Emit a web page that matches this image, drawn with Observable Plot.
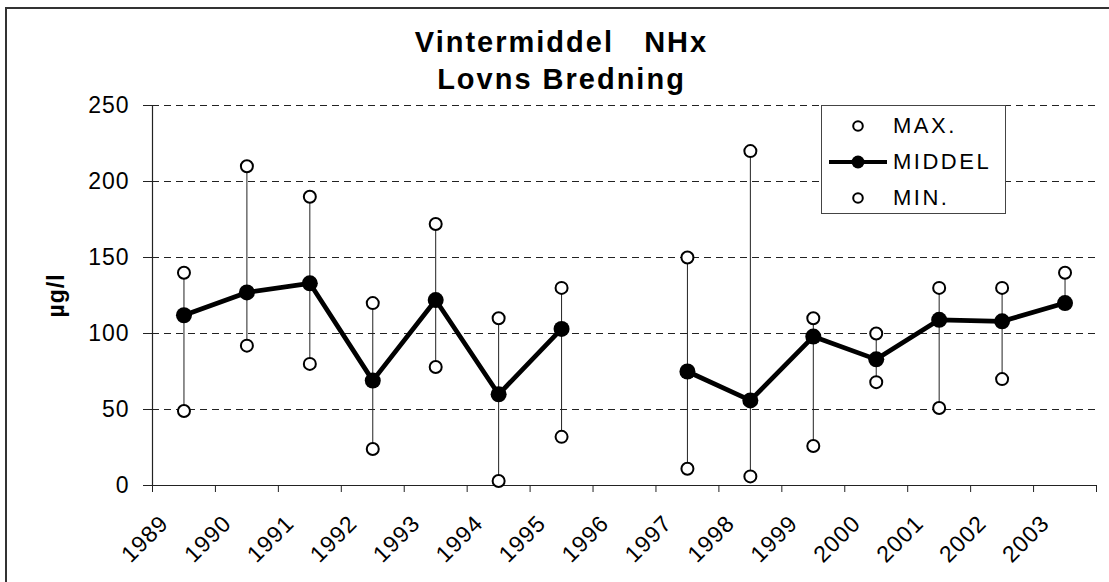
<!DOCTYPE html>
<html>
<head>
<meta charset="utf-8">
<script src="https://cdn.jsdelivr.net/npm/d3@7"></script>
<script src="https://cdn.jsdelivr.net/npm/@observablehq/plot@0.6"></script>
<style>
  html, body { margin: 0; padding: 0; background: #fff; }
  #wrap { position: relative; width: 1109px; height: 582px; overflow: hidden; background: #fff;
          font-family: "Liberation Sans", Arial, sans-serif; color: #000; }
  #frame { position: absolute; left: 5px; top: 7px; width: 1300px; height: 800px;
           border-left: 2px solid #333; border-top: 2px solid #333; }
  #title { position: relative; height: 74px; padding-top: 24px; padding-left: 14px;
           text-align: center; font-weight: bold; font-size: 29px; line-height: 37px; letter-spacing: 2px; }
  #chart { position: relative; }
  #chart svg text { letter-spacing: 1px; }
  #legend { position: absolute; left: 821px; top: 105px; width: 185px; height: 109px;
            border: 1px solid #444; background: #fff; padding-top: 2px; box-sizing: border-box; }
  .row { display: flex; align-items: center; height: 36px; font-size: 22px; letter-spacing: 2.5px; }
  .row svg { margin-left: 5px; flex: none; }
</style>
</head>
<body>
<div id="wrap">
  <div id="frame"></div>
  <div id="title">Vintermiddel&nbsp;&nbsp; NHx<br>Lovns Bredning</div>
  <div id="chart"></div>
  <div id="legend">
    <div class="row"><svg width="66" height="20"><circle cx="31" cy="10" r="4.8" fill="#fff" stroke="#000" stroke-width="2"/></svg><span>MAX.</span></div>
    <div class="row"><svg width="66" height="20"><line x1="2" x2="60" y1="10" y2="10" stroke="#000" stroke-width="4"/><circle cx="31" cy="10" r="6.5" fill="#000"/></svg><span>MIDDEL</span></div>
    <div class="row"><svg width="66" height="20"><circle cx="31" cy="10" r="4.8" fill="#fff" stroke="#000" stroke-width="2"/></svg><span>MIN.</span></div>
  </div>
</div>
<script>
// Data (winter means of NHx, µg/l)
const years    = [1989, 1990, 1991, 1992, 1993, 1994, 1995, 1996, 1997, 1998, 1999, 2000, 2001, 2002, 2003];
const maxVals  = [140, 210, 190, 120, 172, 110, 130, null, 150, 220, 110, 100, 130, 130, 140];
const meanVals = [112, 127, 133,  69, 122,  60, 103, null,  75,  56,  98,  83, 109, 108, 120];
const minVals  = [ 49,  92,  80,  24,  78,   3,  32, null,  11,   6,  26,  68,  51,  70, 120];
const yTicks   = [0, 50, 100, 150, 200, 250];
const xTicks   = [1989, 1990, 1991, 1992, 1993, 1994, 1995, 1996, 1997, 1998, 1999, 2000, 2001, 2002, 2003, 2004];

const rows = years.map((yr, i) => ({x: yr + 0.5, max: maxVals[i], mean: meanVals[i], min: minVals[i]}));
const valid = rows.filter(d => d.max != null);

const chart = Plot.plot({
  width: 1109,
  height: 484,
  marginTop: 7,
  marginBottom: 97,
  marginLeft: 152,
  marginRight: 13,
  x: {domain: [1989, 2004]},
  y: {domain: [0, 250]},
  style: {fontFamily: "'Liberation Sans', Arial, sans-serif", fontSize: "23px", color: "#000", background: "transparent", overflow: "visible"},
  marks: [
    Plot.ruleY(yTicks.slice(1), {stroke: "#222", strokeWidth: 1, strokeDasharray: "7,5"}),
    Plot.axisY({ticks: yTicks, tickSize: 9, tickPadding: 14, label: null, fontSize: 23, stroke: "#222"}),
    Plot.axisX({ticks: xTicks, tickSize: 7, tickFormat: () => "", label: null, stroke: "#222"}),
    Plot.axisX({ticks: xTicks.slice(0, -1), tickFormat: d => String(d), tickSize: 0, tickRotate: -45, tickPadding: 8, dx: 12, dy: 26, label: null, fontSize: 23}),
    Plot.ruleX([1989], {y1: 0, y2: 250, stroke: "#222", strokeWidth: 1.2}),
    Plot.ruleY([0], {stroke: "#222", strokeWidth: 1.2}),
    Plot.ruleX(valid, {x: "x", y1: d => Math.min(d.min, d.mean), y2: "max", stroke: "#222", strokeWidth: 1}),
    Plot.dot(rows, {x: "x", y: "max", r: 6, fill: "#fff", stroke: "#000", strokeWidth: 2}),
    Plot.dot(rows, {x: "x", y: "min", r: 6, fill: "#fff", stroke: "#000", strokeWidth: 2}),
    Plot.line(rows, {x: "x", y: "mean", stroke: "#000", strokeWidth: 4.7, strokeLinejoin: "round"}),
    Plot.dot(rows, {x: "x", y: "mean", r: 8, fill: "#000"}),
    Plot.text(["µg/l"], {frameAnchor: "left", rotate: -90, dx: -96, textAnchor: "middle", fontWeight: "bold", fontSize: 23})
  ]
});
document.getElementById("chart").appendChild(chart);
</script>
</body>
</html>
